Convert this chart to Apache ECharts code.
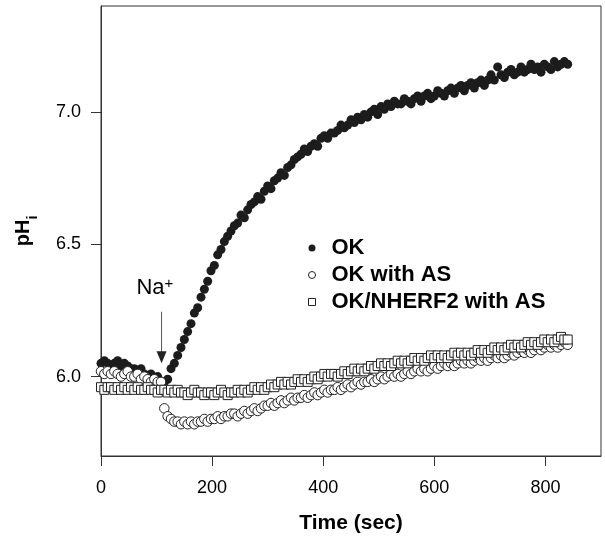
<!DOCTYPE html>
<html><head><meta charset="utf-8">
<script src="https://cdn.jsdelivr.net/npm/echarts@6/dist/echarts.min.js"></script>
<style>html,body{margin:0;padding:0;background:#fff}#c{width:605px;height:539px}</style>
</head><body><div id="c"></div>
<script>
// ---- data ----
const timeSec = [0,6,12,18,24,30,36,42,48,54,60,66,72,78,84,90,96,102,108,114,
120,126,132,138,144,150,156,162,168,174,180,186,192,198,204,210,216,222,228,234,
240,246,252,258,264,270,276,282,288,294,300,306,312,318,324,330,336,342,348,354,
360,366,372,378,384,390,396,402,408,414,420,426,432,438,444,450,456,462,468,474,
480,486,492,498,504,510,516,522,528,534,540,546,552,558,564,570,576,582,588,594,
600,606,612,618,624,630,636,642,648,654,660,666,672,678,684,690,696,702,708,714,
720,726,732,738,744,750,756,762,768,774,780,786,792,798,804,810,816,822,828,834,840];

const okPH = [6.05,6.06,6.05,6.04,6.05,6.06,6.04,6.05,6.04,6.03,
6.03,6.02,6.03,6.01,6.00,6.01,5.99,6.00,5.98,5.98,
5.99,6.03,6.05,6.08,6.11,6.14,6.17,6.20,6.24,6.26,
6.30,6.33,6.36,6.40,6.42,6.46,6.48,6.51,6.53,6.55,
6.57,6.58,6.61,6.60,6.63,6.65,6.66,6.68,6.67,6.70,
6.72,6.71,6.74,6.75,6.77,6.76,6.79,6.80,6.82,6.83,
6.84,6.86,6.85,6.87,6.88,6.87,6.90,6.91,6.90,6.92,
6.92,6.93,6.95,6.94,6.95,6.97,6.96,6.98,6.97,6.99,
6.98,7.00,7.01,6.99,7.02,7.01,7.03,7.02,7.04,7.03,
7.03,7.05,7.04,7.03,7.05,7.06,7.04,7.06,7.07,7.05,
7.06,7.08,7.07,7.06,7.08,7.09,7.07,7.09,7.10,7.08,
7.10,7.11,7.09,7.11,7.12,7.10,7.12,7.14,7.12,7.17,
7.14,7.13,7.15,7.16,7.14,7.15,7.17,7.15,7.16,7.18,
7.16,7.17,7.15,7.18,7.17,7.16,7.19,7.17,7.18,7.19,7.18];

const okWithAsPH = [6.02,6.01,6.02,6.01,6.02,6.01,6.00,6.01,6.02,6.00,
6.00,6.01,5.99,6.00,5.99,5.98,5.99,5.98,5.98,5.88,
5.85,5.84,5.83,5.83,5.82,5.83,5.82,5.83,5.82,5.83,
5.83,5.84,5.83,5.84,5.84,5.85,5.84,5.85,5.85,5.86,
5.86,5.85,5.86,5.87,5.86,5.87,5.88,5.87,5.88,5.89,
5.89,5.90,5.89,5.90,5.91,5.90,5.91,5.92,5.91,5.92,
5.92,5.93,5.92,5.93,5.94,5.93,5.94,5.95,5.94,5.95,
5.95,5.96,5.95,5.96,5.97,5.96,5.97,5.98,5.97,5.98,
5.98,5.99,5.98,5.99,6.00,5.99,6.00,6.01,6.00,6.01,
6.00,6.01,6.02,6.01,6.02,6.03,6.02,6.03,6.02,6.03,
6.04,6.03,6.04,6.05,6.04,6.05,6.04,6.05,6.06,6.05,
6.06,6.05,6.06,6.07,6.06,6.07,6.06,6.07,6.08,6.07,
6.08,6.07,6.08,6.09,6.08,6.09,6.10,6.09,6.10,6.09,
6.10,6.11,6.10,6.11,6.12,6.11,6.12,6.11,6.12,6.13,6.12];

const nherf2WithAsPH = [5.96,5.95,5.96,5.96,5.95,5.96,5.95,5.96,5.95,5.96,
5.95,5.96,5.95,5.95,5.96,5.95,5.95,5.94,5.95,5.95,
5.94,5.95,5.94,5.95,5.94,5.94,5.93,5.94,5.95,5.94,
5.94,5.93,5.94,5.94,5.93,5.94,5.95,5.94,5.93,5.94,
5.94,5.95,5.94,5.95,5.94,5.95,5.96,5.95,5.96,5.95,
5.96,5.97,5.96,5.97,5.98,5.97,5.98,5.97,5.98,5.99,
5.98,5.99,5.98,5.99,6.00,5.99,6.00,6.01,6.00,6.01,
6.01,6.00,6.01,6.02,6.01,6.02,6.03,6.02,6.03,6.02,
6.03,6.04,6.03,6.04,6.05,6.04,6.05,6.04,6.05,6.06,
6.05,6.06,6.05,6.06,6.07,6.06,6.07,6.06,6.07,6.08,
6.07,6.08,6.07,6.08,6.07,6.08,6.09,6.08,6.09,6.08,
6.09,6.08,6.09,6.10,6.09,6.10,6.09,6.10,6.11,6.10,
6.11,6.10,6.11,6.12,6.11,6.12,6.11,6.12,6.13,6.12,
6.13,6.12,6.13,6.14,6.13,6.14,6.13,6.14,6.15,6.14,6.14];

const seriesNames = ['OK', 'OK with AS', 'OK/NHERF2 with AS'];
const xTickValues = [0, 200, 400, 600, 800];
const yTickValues = [6.0, 6.5, 7.0];

// annotation anchors (data coordinates)
const arrowTop = [109, 6.245];
const arrowTip = [109, 6.05];
const naLabelAt = [97, 6.335];

// ---- chart ----
const FONT = 'Liberation Sans, Arial, Helvetica, sans-serif';
function pairs(ys) { return timeSec.map((t, i) => [t, ys[i]]); }

const chart = echarts.init(document.getElementById('c'), null, {renderer: 'canvas'});
chart.setOption({
  animation: false,
  backgroundColor: '#fff',
  textStyle: {fontFamily: FONT},
  grid: {left: 101, right: 4, top: 6, bottom: 82, show: true, borderColor: '#333', borderWidth: 1},
  legend: {
    orient: 'vertical', left: 308, top: 237, padding: 0,
    itemWidth: 7, itemHeight: 7, itemGap: 5,
    textStyle: {fontFamily: FONT, fontSize: 22, fontWeight: 'bold', color: '#000', lineHeight: 22, padding: [0, 0, 0, 11]},
    data: [
      {name: seriesNames[0], icon: 'circle', itemStyle: {color: '#1c1c1c'}},
      {name: seriesNames[1], icon: 'circle', itemStyle: {color: '#fff', borderColor: '#222', borderWidth: 1}},
      {name: seriesNames[2], icon: 'rect', itemStyle: {color: '#fff', borderColor: '#222', borderWidth: 1}}
    ]
  },
  xAxis: {
    type: 'value', min: 0, max: 900,
    axisLine: {show: true, lineStyle: {color: '#333'}},
    axisTick: {show: true, length: 10, lineStyle: {color: '#333'}, customValues: xTickValues},
    axisLabel: {fontFamily: FONT, fontSize: 18, color: '#000', margin: 23, customValues: xTickValues},
    splitLine: {show: false},
    name: 'Time (sec)', nameLocation: 'middle', nameGap: 57,
    nameTextStyle: {fontFamily: FONT, fontSize: 21, fontWeight: 'bold', color: '#000'}
  },
  yAxis: {
    type: 'value', min: 5.7, max: 7.4,
    axisLine: {show: true, lineStyle: {color: '#333'}},
    axisTick: {show: true, length: 10, lineStyle: {color: '#333'}, customValues: yTickValues},
    axisLabel: {fontFamily: FONT, fontSize: 18, color: '#000', margin: 20, customValues: yTickValues,
      formatter: v => v.toFixed(1)},
    splitLine: {show: false},
    name: '{a|pH}{b|i}', nameLocation: 'middle', nameGap: 67, nameRotate: 90,
    nameTextStyle: {
      color: '#000',
      rich: {
        a: {fontFamily: FONT, fontSize: 20, fontWeight: 'bold', color: '#000', lineHeight: 22, verticalAlign: 'middle'},
        b: {fontFamily: FONT, fontSize: 14, fontWeight: 'bold', color: '#000', lineHeight: 22, verticalAlign: 'bottom', padding: [0, 0, -6, 0]}
      }
    }
  },
  series: [
    {name: seriesNames[0], type: 'scatter', symbol: 'circle', symbolSize: 9,
      itemStyle: {color: '#1c1c1c', opacity: 1}, data: pairs(okPH)},
    {name: seriesNames[1], type: 'scatter', symbol: 'circle', symbolSize: 9.5,
      itemStyle: {color: '#ffffff', borderColor: '#222', borderWidth: 1, opacity: 1}, data: pairs(okWithAsPH)},
    {name: seriesNames[2], type: 'scatter', symbol: 'rect', symbolSize: 9,
      itemStyle: {color: '#ffffff', borderColor: '#222', borderWidth: 1, opacity: 1}, data: pairs(nherf2WithAsPH)}
  ]
});

const pTop = chart.convertToPixel({gridIndex: 0}, arrowTop);
const pTip = chart.convertToPixel({gridIndex: 0}, arrowTip);
const pLab = chart.convertToPixel({gridIndex: 0}, naLabelAt);
chart.setOption({
  graphic: [
    {type: 'line', shape: {x1: pTop[0], y1: pTop[1], x2: pTip[0], y2: pTip[1] - 10}, style: {stroke: '#555', lineWidth: 1}, z: 10},
    {type: 'polygon', shape: {points: [[pTip[0] - 5, pTip[1] - 12], [pTip[0] + 5, pTip[1] - 12], [pTip[0], pTip[1]]]}, style: {fill: '#222'}, z: 10},
    {type: 'text', x: pLab[0], y: pLab[1], z: 10,
      style: {text: '{a|Na}{b|+}', align: 'center', verticalAlign: 'middle',
        rich: {
          a: {fontFamily: FONT, fontSize: 22, fill: '#000', lineHeight: 24, verticalAlign: 'middle'},
          b: {fontFamily: FONT, fontSize: 15, fill: '#000', lineHeight: 24, verticalAlign: 'top', padding: [0, 0, 6, 0]}
        }}}
  ]
});
</script></body></html>
